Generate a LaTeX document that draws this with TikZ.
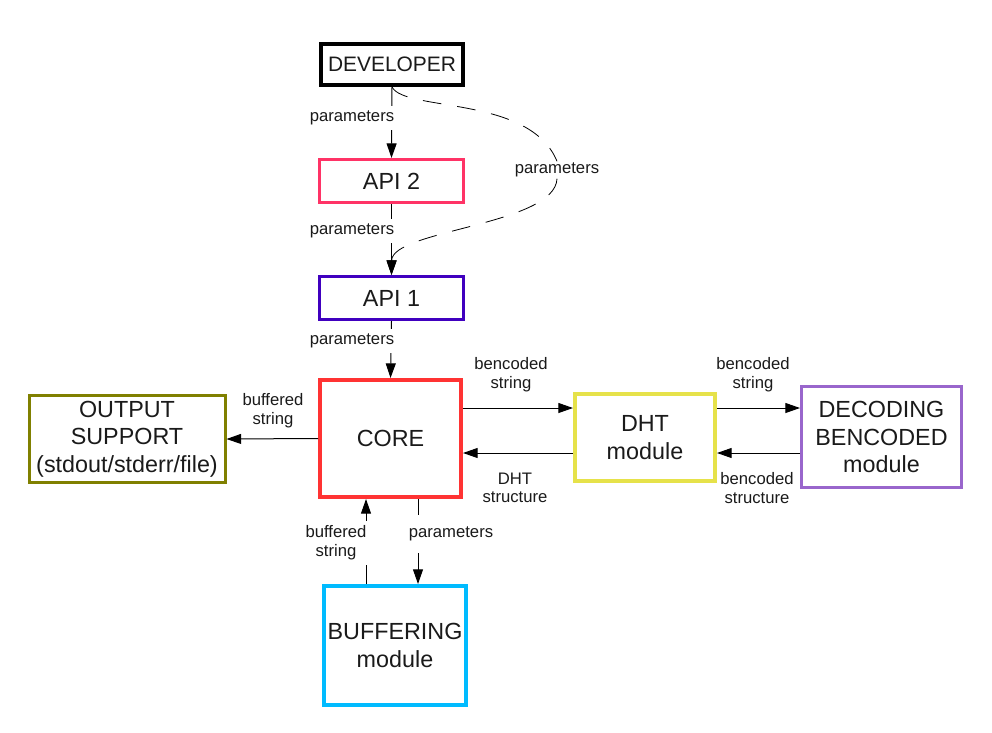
\documentclass[tikz,border=0pt]{standalone}
\usepackage{fontspec}
\setmainfont{Liberation Sans}
\usetikzlibrary{arrows.meta}
\definecolor{api2col}{HTML}{FF3366}
\definecolor{api1col}{HTML}{4000BF}
\definecolor{corecol}{HTML}{FF3333}
\definecolor{outcol}{HTML}{808000}
\definecolor{dhtcol}{HTML}{E6E24A}
\definecolor{deccol}{HTML}{9966CC}
\definecolor{bufcol}{HTML}{00BBFF}
\definecolor{txtcol}{HTML}{1A1A1A}
\tikzset{
	box/.style={draw, rectangle, align=center, inner sep=0pt, text=txtcol, font=\fontsize{17.5}{20.5}\selectfont},
	lbl/.style={fill=white, align=center, inner sep=4pt, text=txtcol, font=\fontsize{12.5}{14}\selectfont},
	conn/.style={line width=0.75pt, -{Triangle[length=11pt,width=7.5pt]}},
}

\begin{document}
\begin{tikzpicture}[x=0.75pt, y=-0.75pt]
			%%%%% START %%%%%
			\useasboundingbox (0, 0) rectangle (992, 732);
			
			\node[box, line width=3pt, minimum width=106.5pt, minimum height=30.75pt, font=\fontsize{15.7}{20}\selectfont] (dev) at (392, 64.5) {DEVELOPER};
			\node[box, line width=2.25pt, draw=api2col, minimum width=108pt, minimum height=32.25pt] (api2) at (391.5, 181) {API 2};
			\node[box, line width=2.25pt, draw=api1col, minimum width=108pt, minimum height=32.25pt] (api1) at (391.5, 298) {API 1};
			\node[box, line width=3pt, draw=corecol, minimum width=105.75pt, minimum height=87.75pt] (core) at (390.5, 438.5) {CORE};
			\node[box, line width=2.25pt, draw=outcol, minimum width=147pt, minimum height=65.25pt] (out) at (127, 439) {OUTPUT\\SUPPORT\\(stdout/stderr/file)};
			\node[box, line width=3pt, draw=dhtcol, minimum width=105pt, minimum height=65.25pt] (dht) at (645, 437.5) {DHT\\module};
			\node[box, line width=2.25pt, draw=deccol, minimum width=120pt, minimum height=75.75pt] (dec) at (881.5, 437) {DECODING\\BENCODED\\module};
			\node[box, line width=3pt, draw=bufcol, minimum width=106.5pt, minimum height=89.25pt] (buf) at (395, 645.5) {BUFFERING\\module};
			
			\coordinate (up) at (0, 408);
			\coordinate (dn) at (0, 453);
			\coordinate (bl) at (366, 0);
			\coordinate (br) at (418, 0);
			
			\draw[conn] (dev.south) -- (api2.north);
			\draw[conn] (api2.south) -- (api1.north);
			\draw[conn] (api1.south) -- (core.north);
			
			\node[lbl] (lp1) at (352, 118) {parameters};
			\node[lbl] (lp2) at (352, 231) {parameters};
			\node[lbl] (lp3) at (352, 341) {parameters};
			
			\node[lbl, inner sep=1pt] (ldash) at (557, 170) {parameters};
			\draw[line width=0.6pt, dash pattern=on 14pt off 12pt] (dev.south) .. controls (405, 112) and (530, 95) .. (ldash.north);
			\draw[conn, line width=0.6pt, dash pattern=on 14pt off 12pt] (ldash.south) .. controls (555, 225) and (392, 230) .. (api1.north);
			
			\draw[conn] (core.east |- up) -- (dht.west |- up);
			\draw[conn] (dht.west |- dn) -- (core.east |- dn);
			\draw[conn] (dht.east |- up) -- (dec.west |- up);
			\draw[conn] (dec.west |- dn) -- (dht.east |- dn);
			\draw[conn] (core.west) -- (out.east);
			\draw[conn] (buf.north -| bl) -- (core.south -| bl);
			\draw[conn] (core.south -| br) -- (buf.north -| br);
			
			\node[lbl, fill=none] (lbs1) at (511, 375) {bencoded\\string};
			\node[lbl, fill=none] (ldht) at (515, 488) {DHT\\structure};
			\node[lbl, fill=none] (lbs2) at (753, 375) {bencoded\\string};
			\node[lbl, fill=none] (lbst) at (757, 488) {bencoded\\structure};
			\node[lbl, fill=none] (lbuf1) at (273, 411) {buffered\\string};
			\node[lbl] (lbuf2) at (336, 543) {buffered\\string};
			\node[lbl, inner ysep=9pt] (lpb) at (451, 534) {parameters};
			
			%%%%% END %%%%%
\end{tikzpicture}
\end{document}
